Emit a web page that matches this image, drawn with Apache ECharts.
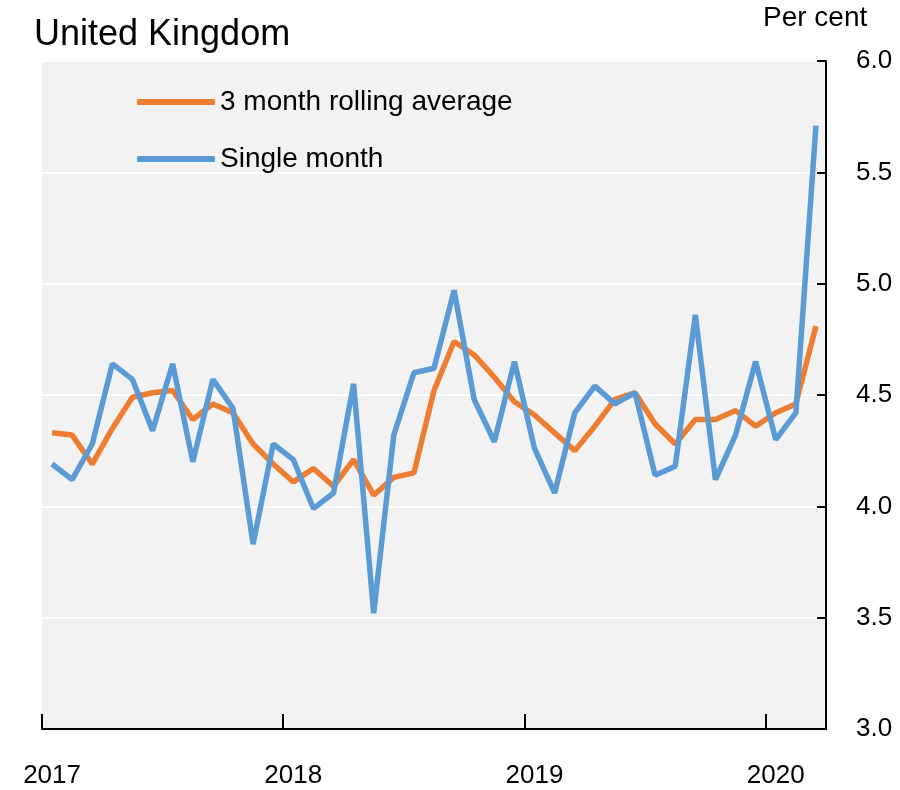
<!DOCTYPE html>
<html>
<head>
<meta charset="utf-8">
<title>United Kingdom</title>
<script src="https://cdn.jsdelivr.net/npm/echarts@6/dist/echarts.min.js"></script>
<style>
    html, body { margin: 0; padding: 0; background: #fff; }
    #chart { width: 900px; height: 790px; }
</style>
</head>
<body>
<div id="chart"></div>
<script>
var months = [
    '2017-01', '2017-02', '2017-03', '2017-04', '2017-05', '2017-06', '2017-07', '2017-08', '2017-09', '2017-10', '2017-11', '2017-12',
    '2018-01', '2018-02', '2018-03', '2018-04', '2018-05', '2018-06', '2018-07', '2018-08', '2018-09', '2018-10', '2018-11', '2018-12',
    '2019-01', '2019-02', '2019-03', '2019-04', '2019-05', '2019-06', '2019-07', '2019-08', '2019-09', '2019-10', '2019-11', '2019-12',
    '2020-01', '2020-02', '2020-03'
];

var rollingAvg = [
    4.33, 4.32, 4.19, 4.35, 4.49, 4.51, 4.52, 4.39, 4.46, 4.42, 4.28, 4.19,
    4.11, 4.17, 4.09, 4.21, 4.05, 4.13, 4.15, 4.52, 4.74, 4.68, 4.58, 4.47,
    4.41, 4.33, 4.25, 4.36, 4.48, 4.51, 4.37, 4.28, 4.39, 4.39, 4.43, 4.36,
    4.42, 4.46, 4.81
];

var singleMonth = [
    4.19, 4.12, 4.28, 4.64, 4.57, 4.34, 4.64, 4.20, 4.57, 4.44, 3.83, 4.28,
    4.21, 3.99, 4.06, 4.55, 3.52, 4.32, 4.60, 4.62, 4.97, 4.48, 4.29, 4.65,
    4.26, 4.06, 4.42, 4.54, 4.46, 4.51, 4.14, 4.18, 4.86, 4.12, 4.32, 4.65,
    4.30, 4.42, 5.71
];

var seriesNames = ['3 month rolling average', 'Single month'];

var labelFont = '"Liberation Sans", Arial, sans-serif';

var chart = echarts.init(document.getElementById('chart'));

chart.setOption({
    animation: false,
    backgroundColor: '#ffffff',
    color: ['#ED7D31', '#5B9BD5'],
    graphic: [
        {
            type: 'text',
            left: 34,
            top: 17,
            style: {
                text: 'United Kingdom',
                font: '36px "Liberation Sans", Arial, sans-serif',
                fill: '#000'
            }
        },
        {
            type: 'text',
            left: 763,
            top: 4,
            style: {
                text: 'Per cent',
                fontSize: 28,
                fontFamily: labelFont,
                fill: '#000'
            }
        }
    ],
    legend: {
        data: seriesNames,
        orient: 'vertical',
        left: 137,
        top: 88,
        padding: 0,
        icon: 'roundRect',
        itemWidth: 78,
        itemHeight: 6,
        itemGap: 29,
        textStyle: {
            fontSize: 28,
            lineHeight: 28,
            fontFamily: labelFont,
            color: '#000'
        }
    },
    grid: {
        left: 42,
        right: 74,
        top: 61,
        bottom: 61,
        show: true,
        backgroundColor: '#f2f2f2',
        borderWidth: 0
    },
    xAxis: {
        type: 'category',
        data: months,
        boundaryGap: true,
        axisLine: { lineStyle: { color: '#000', width: 2 } },
        axisTick: {
            show: true,
            inside: true,
            length: 15,
            interval: 11,
            lineStyle: { color: '#000', width: 2 }
        },
        axisLabel: {
            interval: 11,
            formatter: function (v) { return v.slice(0, 4); },
            fontSize: 26,
            fontFamily: labelFont,
            color: '#000',
            margin: 34
        },
        splitLine: { show: false }
    },
    yAxis: {
        type: 'value',
        position: 'right',
        min: 3,
        max: 6,
        interval: 0.5,
        axisLine: { show: true, lineStyle: { color: '#000', width: 2 } },
        axisTick: {
            show: true,
            inside: true,
            length: 9,
            lineStyle: { color: '#000', width: 2 }
        },
        axisLabel: {
            formatter: function (v) { return v.toFixed(1); },
            fontSize: 26,
            fontFamily: labelFont,
            color: '#000',
            margin: 30
        },
        splitLine: { lineStyle: { color: '#ffffff', width: 2 } }
    },
    series: [
        {
            name: seriesNames[0],
            type: 'line',
            data: rollingAvg,
            showSymbol: false,
            lineStyle: { width: 5.5, color: '#ED7D31' }
        },
        {
            name: seriesNames[1],
            type: 'line',
            data: singleMonth,
            showSymbol: false,
            lineStyle: { width: 5.5, color: '#5B9BD5' }
        }
    ]
});
</script>
</body>
</html>
